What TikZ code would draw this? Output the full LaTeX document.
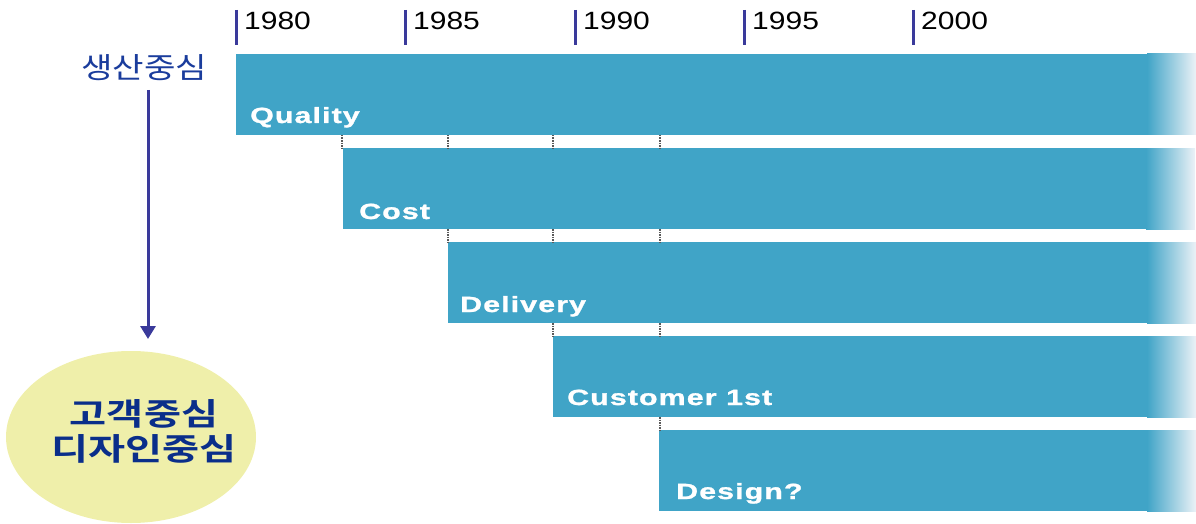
\documentclass[tikz,border=0pt]{standalone}
\usepackage{fontspec}
\setmainfont{Liberation Sans}
\newfontfamily\yearfont[FakeStretch=1.2]{Liberation Sans}
\newfontfamily\barfont[UprightFont=* Bold,FakeStretch=1.38,LetterSpace=5,FakeBold=1.2]{Liberation Sans}
\newfontfamily\krfont[FakeStretch=1.18]{Noto Sans CJK KR}
\newfontfamily\krboldfont[FakeStretch=1.3,UprightFont=* Bold]{Noto Sans CJK KR}
\usetikzlibrary{shapes.geometric,arrows.meta}
\definecolor{barblue}{RGB}{64,164,199}
\definecolor{fadeend}{RGB}{236,242,247}
\definecolor{tickblue}{RGB}{58,58,155}
\definecolor{headblue}{RGB}{26,60,156}
\definecolor{ellfill}{RGB}{239,239,170}
\definecolor{elltext}{RGB}{10,46,138}
\definecolor{gapgray}{RGB}{90,90,90}
\tikzset{
  bar/.style={rectangle, anchor=north west, fill=barblue, inner sep=0pt, outer sep=0pt,
    minimum height=81pt},
  barfade/.style={left color=barblue, right color=fadeend},
  barlabel/.style={anchor=base west, text=white, inner sep=0pt,
    font=\barfont\fontsize{22}{26}\selectfont},
  yeartick/.style={draw=tickblue, line width=3pt},
  yearlabel/.style={anchor=base west, inner sep=0pt, text=black,
    font=\yearfont\fontsize{25}{30}\selectfont},
  gapmark/.style={draw=gapgray, line width=1.6pt, dash pattern=on 1.5pt off 1pt},
  flow/.style={draw=tickblue, line width=3pt, -{Triangle[width=15pt,length=13pt]}}
}
\begin{document}
\begin{tikzpicture}[x=1pt, y=-1pt]
\useasboundingbox (0,0) rectangle (1196,524);

% timeline ticks and years
\foreach \yr/\xx in {1980/236,1985/405,1990/575,1995/744,2000/913}{
  \coordinate (t\yr a) at (\xx,10);
  \coordinate (t\yr b) at (\xx,45);
  \draw[yeartick] (t\yr a) -- (t\yr b);
  \node[yearlabel] (y\yr) at (\xx+8,30) {\yr};
}

% staircase of bars, each fading out at its right end
\node[bar, minimum width=960pt] (b1) at (236,54) {};
\node[bar, minimum width=852pt] (b2) at (343,148) {};
\node[bar, minimum width=748pt] (b3) at (448,242) {};
\node[bar, minimum width=643pt] (b4) at (553,336) {};
\node[bar, minimum width=537pt] (b5) at (659,430) {};
\foreach \b in {b1,b2,b3,b4,b5}{
  \begin{scope}
    \clip ([xshift=-49pt]\b.north east) rectangle (\b.south east);
    \shade[barfade] ([xshift=-49pt,yshift=1pt]\b.north east)
      rectangle ([yshift=-1pt]\b.south east);
  \end{scope}
}

\node[barlabel] (l1) at (250,123) {Quality};
\node[barlabel] (l2) at (359,219) {Cost};
\node[barlabel] (l3) at (460,312) {Delivery};
\node[barlabel] (l4) at (567,405) {Customer 1st};
\node[barlabel] (l5) at (676,499) {Design?};

% small marks in the gaps between bars
\foreach \xx in {342,448,553,660}{
  \draw[gapmark] (b1.south -| \xx,0) -- (b2.north -| \xx,0);
}
\foreach \xx in {448,553,660}{
  \draw[gapmark] (b2.south -| \xx,0) -- (b3.north -| \xx,0);
}
\foreach \xx in {553,660}{
  \draw[gapmark] (b3.south -| \xx,0) -- (b4.north -| \xx,0);
}
\draw[gapmark] (b4.south -| 660,0) -- (b5.north -| 660,0);

% left side: from production focus to customer focus
\node[text=headblue, inner sep=0pt, anchor=center,
  font=\krfont\fontsize{29}{32}\selectfont] (prod) at (144,68) {생산중심};
\node[ellipse, fill=ellfill, minimum width=250pt, minimum height=172pt,
  inner sep=0pt] (cust) at (131,437) {};
\node[text=elltext, align=center, inner sep=0pt,
  font=\krboldfont\fontsize{31}{35}\selectfont] (custtext) at (144,431)
  {고객중심\\디자인중심};
\coordinate (arrtop) at (148,90);
\coordinate (arrend) at (148,339);
\draw[flow] (arrtop) -- (arrend);
\end{tikzpicture}
\end{document}
